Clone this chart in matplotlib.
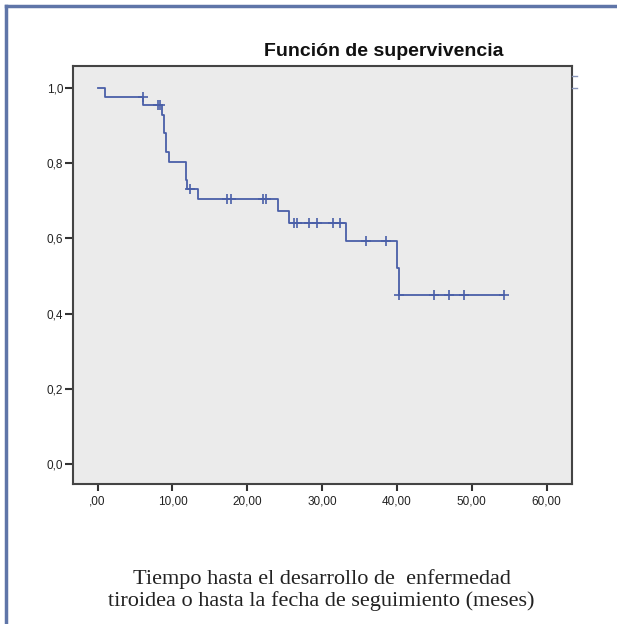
import matplotlib
matplotlib.use("Agg")
import matplotlib.pyplot as plt
from matplotlib.lines import Line2D

# Kaplan-Meier steps (months, survival)
step_t = [0.0, 1.0, 6.05, 8.65, 8.9, 9.1, 9.6, 11.8, 12.0, 13.4, 24.15, 25.6, 33.2, 40.0, 40.3, 54.3]
step_s = [1.0, 0.976, 0.955, 0.927, 0.879, 0.830, 0.803, 0.755, 0.731, 0.704, 0.672, 0.641, 0.593, 0.520, 0.449, 0.449]

# censored observations
cens_t = [6.0, 8.1, 8.4, 12.3, 17.3, 17.85, 22.1, 22.5, 26.3, 26.6, 28.2, 29.3, 31.4, 32.4,
          35.8, 38.5, 40.3, 45.0, 47.0, 48.9, 54.3]
cens_s = [0.976, 0.955, 0.955, 0.731, 0.704, 0.704, 0.704, 0.704, 0.641, 0.641, 0.641, 0.641, 0.641, 0.641,
          0.593, 0.593, 0.449, 0.449, 0.449, 0.449, 0.449]

xticks = [0, 10, 20, 30, 40, 50, 60]
xticklabels = [",00", "10,00", "20,00", "30,00", "40,00", "50,00", "60,00"]
yticks = [0.0, 0.2, 0.4, 0.6, 0.8, 1.0]
yticklabels = ["0,0", "0,2", "0,4", "0,6", "0,8", "1,0"]

blue = "#4a5fa8"

fig = plt.figure(figsize=(6.17, 6.24), dpi=100)
ax = fig.add_axes([0.1183, 0.2244, 0.809, 0.6699])
ax.set_facecolor("#ebebeb")

ax.step(step_t, step_s, where="post", color=blue, lw=1.3)
ax.plot(cens_t, cens_s, ls="none", marker="+", ms=7, mew=1.2, color=blue)

ax.set_xlim(-3.29, 63.4)
ax.set_ylim(-0.053, 1.058)
ax.set_xticks(xticks)
ax.set_xticklabels(xticklabels)
ax.set_yticks(yticks)
ax.set_yticklabels(yticklabels)

for sp in ax.spines.values():
    sp.set_color("#444444")
    sp.set_linewidth(1.5)

ax.tick_params(axis="y", direction="out", length=6, width=1.5, color="#333333",
               labelsize=8.5, labelcolor="#222222", pad=1)
ax.tick_params(axis="x", direction="out", length=5, width=1.5, color="#333333",
               labelsize=8.5, labelcolor="#222222", pad=3)
for lab in ax.get_xticklabels() + ax.get_yticklabels():
    lab.set_family("Liberation Sans")

fig.text(0.622, 0.917, "Función de supervivencia", ha="center", va="center",
         fontsize=14, fontweight="bold", family="Liberation Sans", color="#111111")

fig.text(0.521, 0.054, "Tiempo hasta el desarrollo de  enfermedad\ntiroidea o hasta la fecha de seguimiento (meses)",
         ha="center", va="center", fontsize=16, family="Liberation Serif",
         color="#222222", linespacing=1.12)

# leftover legend marks on the right edge
for yy in (75.7, 87.7):
    fig.add_artist(Line2D([572 / 617, 577 / 617], [1 - yy / 624, 1 - yy / 624],
                          color="#8a96b8", lw=1))

# blue frame (top and left)
frame = "#5f75a8"
fig.add_artist(Line2D([5.5 / 617, 1], [1 - 5.5 / 624, 1 - 5.5 / 624], color=frame, lw=2.5))
fig.add_artist(Line2D([5.5 / 617, 5.5 / 617], [0, 1 - 5.5 / 624], color=frame, lw=2.5))

fig.savefig("out.png", dpi=100)
